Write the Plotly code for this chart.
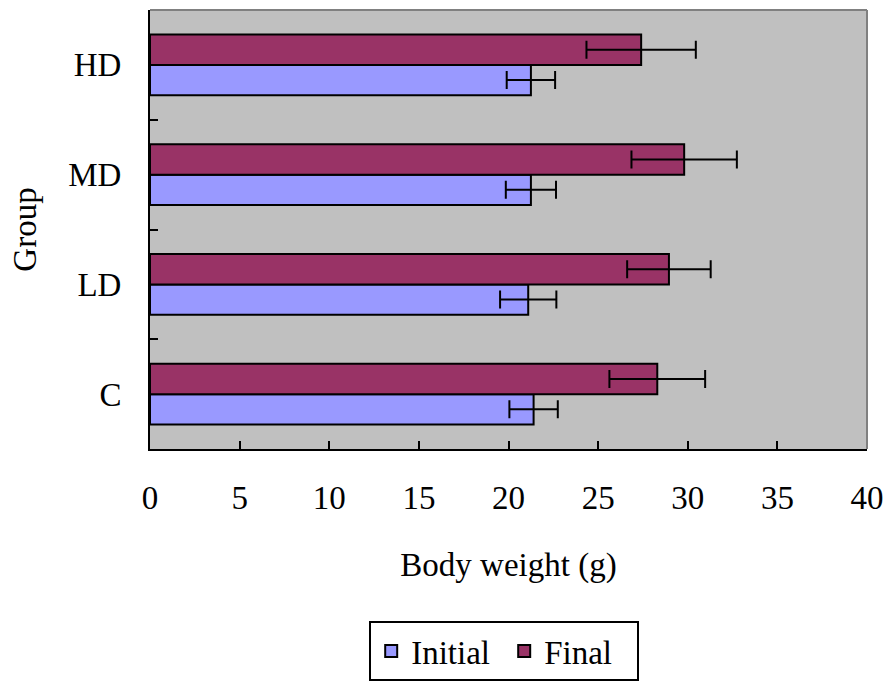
import plotly.graph_objects as go

groups = ["C", "LD", "MD", "HD"]
initial = [21.4, 21.1, 21.25, 21.25]
initial_err = [1.35, 1.57, 1.4, 1.35]
final = [28.3, 28.95, 29.8, 27.4]
final_err = [2.67, 2.33, 2.94, 3.05]
x_ticks = [0, 5, 10, 15, 20, 25, 30, 35, 40]

FONT = "Liberation Serif, Times New Roman, serif"

fig = go.Figure()
fig.add_trace(go.Bar(
    y=groups, x=initial, name="Initial", orientation="h",
    marker=dict(color="#9999FF", line=dict(color="black", width=2)),
    error_x=dict(type="data", array=initial_err, visible=True,
                 color="black", thickness=2, width=9),
))
fig.add_trace(go.Bar(
    y=groups, x=final, name="Final", orientation="h",
    marker=dict(color="#993366", line=dict(color="black", width=2)),
    error_x=dict(type="data", array=final_err, visible=True,
                 color="black", thickness=2, width=9),
))

fig.update_layout(
    width=885, height=681,
    margin=dict(l=150, r=18, t=10, b=232, autoexpand=False),
    paper_bgcolor="white", plot_bgcolor="#C0C0C0",
    barmode="group", bargap=0.445, bargroupgap=0,
    font=dict(family=FONT, size=33, color="black"),
    showlegend=True,
    legend=dict(orientation="h", x=0.494, xanchor="center", y=-0.392, yanchor="top",
                bordercolor="black", borderwidth=2, bgcolor="white",
                font=dict(family=FONT, size=33, color="black"),
                traceorder="normal", itemwidth=30, entrywidth=88),
    xaxis=dict(range=[0, 40], tickvals=x_ticks, ticktext=[str(v) for v in x_ticks],
               ticks="inside", ticklen=8, tickwidth=2, tickcolor="black",
               showline=True, linecolor="black", linewidth=2, automargin=False,
               showgrid=False, zeroline=False, ticklabelstandoff=18,
               title=dict(text="Body weight (g)", standoff=38,
                          font=dict(family=FONT, size=33))),
    yaxis=dict(type="category", categoryorder="array", categoryarray=groups,
               ticks="inside", tickson="boundaries", ticklen=8, tickwidth=2,
               tickcolor="black", showline=True, linecolor="black", linewidth=2,
               automargin=False,
               showgrid=False, zeroline=False, ticklabelstandoff=20,
               title=dict(text="Group", standoff=22,
                          font=dict(family=FONT, size=33))),
    shapes=[
        dict(type="line", xref="paper", yref="paper", x0=0, x1=1, y0=1, y1=1,
             line=dict(color="#808080", width=2)),
        dict(type="line", xref="paper", yref="paper", x0=1, x1=1, y0=0, y1=1,
             line=dict(color="#808080", width=2)),
    ],
)

fig.write_html("out.html",
               config={"displayModeBar": False},
               post_script="document.body.style.margin='0px';document.body.style.overflow='hidden';")
